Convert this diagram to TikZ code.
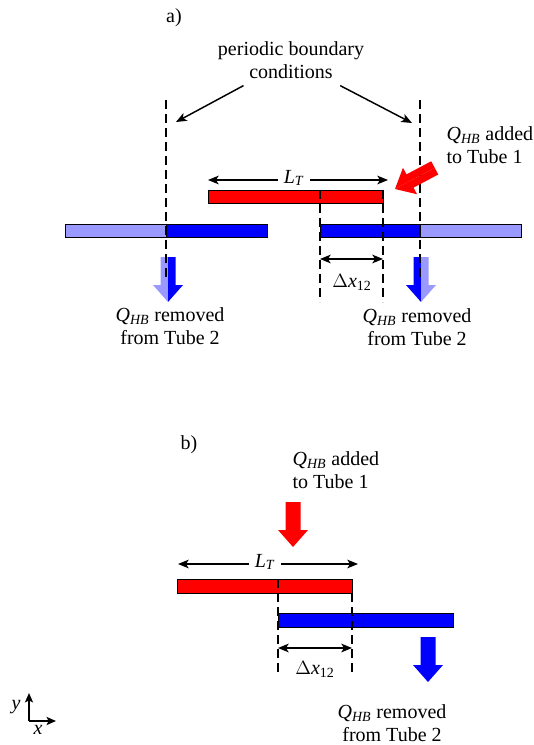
\documentclass[tikz,border=0pt]{standalone}
\usepackage{fontspec}
\setmainfont{Liberation Serif}
\usetikzlibrary{arrows.meta}
\definecolor{tubered}{RGB}{255,0,0}
\definecolor{tubeblue}{RGB}{0,0,255}
\definecolor{ghostblue}{RGB}{153,153,255}

\tikzset{
  lbl/.style={font=\fontsize{15}{17.5}\selectfont, inner sep=1pt, align=center},
  dim/.style={line width=1.1pt, -{Stealth[length=8pt,width=6.5pt,inset=2pt]}},
  dimboth/.style={line width=1.1pt, {Stealth[length=8pt,width=6.5pt,inset=2pt]}-{Stealth[length=8pt,width=6.5pt,inset=2pt]}},
  bnd/.style={line width=0.9pt, dash pattern=on 6.5pt off 4pt},
  tube/.style={draw=black, line width=0.7pt},
  axis/.style={line width=1.5pt, -{Stealth[length=7pt,width=6pt,inset=1.5pt]}},
  % block arrow with its tip at the origin, pointing down; left and right halves coloured separately
  pics/heat/.style 2 args={code={
    \fill[#1] (0,0) -- (-15,-17) -- (-7.5,-17) -- (-7.5,-45) -- (0,-45) -- cycle;
    \fill[#2] (0,0) -- (15,-17) -- (7.5,-17) -- (7.5,-45) -- (0,-45) -- cycle;
  }}
}
\newcommand{\QHB}{\textit{Q}\textsubscript{\textit{HB}}}

\begin{document}
\begin{tikzpicture}[x=0.75pt,y=-0.75pt]
\useasboundingbox (0,0) rectangle (534,745);

% ---------------- panel a ----------------
\node[lbl] (tagA) at (174,18) {a)};
\node[lbl, inner sep=5pt] (pbc) at (291,60) {periodic boundary\\conditions};

% tubes
\fill[tube, fill=tubered] (208,190) rectangle (383,203);
\fill[tube, fill=ghostblue] (65,224) rectangle (166,237);
\fill[tube, fill=tubeblue] (166,224) rectangle (267,237);
\fill[tube, fill=tubeblue] (320,224) rectangle (420,237);
\fill[tube, fill=ghostblue] (420,224) rectangle (521,237);

% heat removal arrows
\pic at (168,302) {heat={ghostblue}{tubeblue}};
\pic at (421,302) {heat={tubeblue}{ghostblue}};

% boundary and overlap lines
\coordinate (bndAL) at (166,100);
\coordinate (bndAR) at (420,100);
\draw[bnd] (bndAL) -- (166,280);
\draw[bnd] (bndAR) -- (420,280);
\draw[bnd] (320,190) -- (320,302);
\draw[bnd] (383,190) -- (383,302);

% heat input arrow
\pic[rotate=-62] at (395,189) {heat={tubered}{tubered}};

% periodic boundary arrows
\coordinate (pbcTipL) at (176,122);
\coordinate (pbcTipR) at (412,123);
\draw[dim] (pbc) -- (pbcTipL);
\draw[dim] (pbc) -- (pbcTipR);

% tube length
\node[lbl, inner sep=4pt] (LTa) at (294,178) {\textit{L}\textsubscript{\textit{T}}};
\coordinate (LTaL) at (208,180);
\coordinate (LTaR) at (388,180);
\draw[dim] (LTa.west |- LTaL) -- (LTaL);
\draw[dim] (LTa.east |- LTaR) -- (LTaR);

% offset
\coordinate (dxaL) at (320,259);
\coordinate (dxaR) at (383,259);
\draw[dimboth] (dxaL) -- (dxaR);
\node[lbl] (dxa) at (352,282) {$\Delta$\textit{x}\textsubscript{12}};

% labels
\node[lbl, align=left, anchor=west] (addA) at (445,145) {\QHB{} added\\to Tube 1};
\node[lbl] (remAL) at (170,326) {\QHB{} removed\\from Tube 2};
\node[lbl] (remAR) at (417,327) {\QHB{} removed\\from Tube 2};

% ---------------- panel b ----------------
\node[lbl] (tagB) at (189,445) {b)};
\node[lbl, align=left, anchor=west] (addB) at (291,470) {\QHB{} added\\to Tube 1};

\fill[tube, fill=tubered] (177,579) rectangle (352,593);
\fill[tube, fill=tubeblue] (278,613) rectangle (453,627);

\pic at (293,547) {heat={tubered}{tubered}};
\pic at (428,682) {heat={tubeblue}{tubeblue}};

\draw[bnd] (278,579) -- (278,673);
\draw[bnd] (352,593) -- (352,673);

\node[lbl, inner sep=4pt] (LTb) at (265,562) {\textit{L}\textsubscript{\textit{T}}};
\coordinate (LTbL) at (178,564);
\coordinate (LTbR) at (358,564);
\draw[dim] (LTb.west |- LTbL) -- (LTbL);
\draw[dim] (LTb.east |- LTbR) -- (LTbR);

\coordinate (dxbL) at (278,648);
\coordinate (dxbR) at (352,648);
\draw[dimboth] (dxbL) -- (dxbR);
\node[lbl] (dxb) at (315,669) {$\Delta$\textit{x}\textsubscript{12}};

\node[lbl] (remB) at (392,723) {\QHB{} removed\\from Tube 2};

% coordinate axes
\coordinate (orig) at (29,721);
\coordinate (yend) at (29,693);
\coordinate (xend) at (56,721);
\draw[axis] (orig) -- (yend);
\draw[axis] (orig) -- (xend);
\node[lbl] (ylab) at (16,707) {\textit{y}};
\node[lbl] (xlab) at (38,730) {\textit{x}};
\end{tikzpicture}
\end{document}
